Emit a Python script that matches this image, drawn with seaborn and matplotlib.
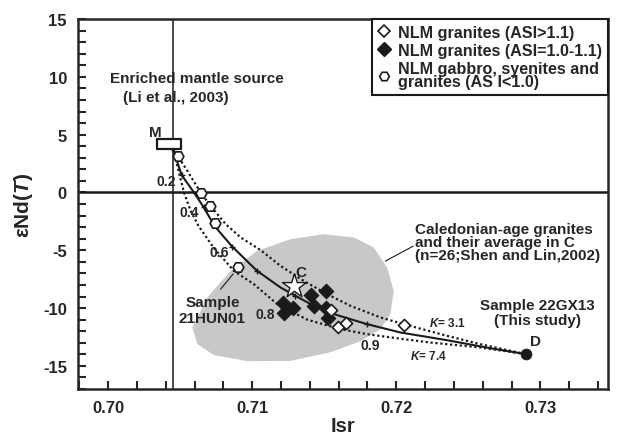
import matplotlib
matplotlib.use("Agg")
import matplotlib.pyplot as plt
import numpy as np
import seaborn as sns
from matplotlib.lines import Line2D
from matplotlib.path import Path


# end members
M_POINT = (0.7042, 4.15)
D_POINT = (0.7290, -14.0)

# mixing curves
solid_x = [0.70423, 0.70454, 0.70510, 0.70595, 0.70662, 0.70739, 0.70861, 0.71033,
           0.71196, 0.71300, 0.71427, 0.71589, 0.71797, 0.72028, 0.72352, 0.72653, 0.72902]
solid_y = [4.13, 3.57, 1.50, 0.00, -1.27, -2.92, -4.69, -6.78,
           -8.22, -8.94, -9.81, -10.61, -11.39, -12.11, -12.78, -13.47, -13.99]

upper_x = [0.70426, 0.70468, 0.70549, 0.70641, 0.70710, 0.70815, 0.70919, 0.71058, 0.71196,
           0.71358, 0.71520, 0.71682, 0.71890, 0.72051, 0.72352, 0.72583, 0.72902]
upper_y = [4.00, 3.46, 1.87, 0.00, -1.16, -2.74, -3.89, -4.99, -6.35,
           -7.65, -8.80, -9.81, -10.81, -11.39, -12.40, -13.12, -13.99]

lower_x = [0.70426, 0.70456, 0.70491, 0.70526, 0.70572, 0.70628, 0.70734, 0.70872, 0.71011,
           0.71173, 0.71381, 0.71598, 0.71798, 0.72028, 0.72236, 0.72583, 0.72902]
lower_y = [4.00, 3.46, 1.73, 0.00, -1.59, -2.92, -4.82, -6.78, -7.93,
           -9.66, -11.00, -11.78, -12.26, -12.65, -12.98, -13.41, -13.99]

# fraction ticks on the solid curve
tick_x = [0.70510, 0.70662, 0.70861, 0.71033, 0.71300, 0.71797]
tick_y = [1.50, -1.27, -4.69, -6.78, -8.94, -11.39]

# grey field of Caledonian granites
field_x = [0.70584, 0.70688, 0.70850, 0.71035, 0.71266, 0.71497, 0.71705, 0.71843, 0.71936,
           0.71982, 0.71959, 0.71890, 0.71751, 0.71543, 0.71266, 0.70965, 0.70734, 0.70619]
field_y = [-11.68, -9.08, -6.78, -5.05, -4.04, -3.61, -3.89, -4.76, -6.49,
           -8.51, -10.53, -11.83, -12.87, -13.82, -14.57, -14.59, -14.07, -13.12]

# samples
asi_high_x = [0.71548, 0.71594, 0.71654, 0.72051]
asi_high_y = [-10.18, -11.63, -11.33, -11.45]

asi_mid_x = [0.71215, 0.71219, 0.71282, 0.71411, 0.71432, 0.71515, 0.71515, 0.71524]
asi_mid_y = [-9.58, -10.47, -10.03, -8.86, -9.81, -8.56, -10.01, -10.90]

asi_low_x = [0.70484, 0.70641, 0.70704, 0.70739, 0.70900]
asi_low_y = [3.11, -0.06, -1.16, -2.60, -6.49]

C_POINT = (0.71289, -8.08)

legend_labels = [
    "NLM granites (ASI>1.1)",
    "NLM granites (ASI=1.0-1.1)",
    "NLM gabbro, syenites and\ngranites (AS I<1.0)",
]

sns.set_theme(style="ticks")
plt.rcParams["font.family"] = ["Liberation Sans", "DejaVu Sans"]
plt.rcParams["font.weight"] = "bold"
plt.rcParams["axes.unicode_minus"] = False
plt.rcParams["mathtext.fontset"] = "custom"
plt.rcParams["mathtext.it"] = "Liberation Sans:bold:italic"
plt.rcParams["mathtext.rm"] = "Liberation Sans:bold"
plt.rcParams["mathtext.bf"] = "Liberation Sans:bold"

fig = plt.figure(figsize=(6.17, 4.39), dpi=100)
ax = fig.add_axes([78 / 617, 1 - 390 / 439, 530 / 617, 370 / 439])

ax.fill(field_x, field_y, color="#c8c8c8", lw=0, zorder=1)

ax.axvline(0.7045, color="k", lw=1.1, zorder=2)
ax.axhline(0, color="k", lw=1.8, zorder=2)

sns.lineplot(x=solid_x, y=solid_y, sort=False, estimator=None, color="k", lw=1.5, ax=ax, zorder=3)
sns.lineplot(x=upper_x, y=upper_y, sort=False, estimator=None, color="k", lw=1.6,
             linestyle=(0, (1, 1.2)), ax=ax, zorder=3)
sns.lineplot(x=lower_x, y=lower_y, sort=False, estimator=None, color="k", lw=1.6,
             linestyle=(0, (1, 1.2)), ax=ax, zorder=3)
sns.scatterplot(x=tick_x, y=tick_y, marker="+", s=25, color="k", linewidth=1, ax=ax, zorder=4)

rect = Path([(-1, -0.4), (1, -0.4), (1, 0.4), (-1, 0.4), (-1, -0.4)],
            [Path.MOVETO, Path.LINETO, Path.LINETO, Path.LINETO, Path.CLOSEPOLY])
sns.scatterplot(x=[M_POINT[0]], y=[M_POINT[1]], marker=rect, s=290, color="white",
                edgecolor="k", linewidth=1.6, ax=ax, zorder=5)
sns.scatterplot(x=[D_POINT[0]], y=[D_POINT[1]], marker="o", s=60, color="k",
                edgecolor="k", ax=ax, zorder=5)

sns.scatterplot(x=asi_mid_x, y=asi_mid_y, marker="D", s=55, color="k", edgecolor="k",
                linewidth=0.8, ax=ax, zorder=5)
sns.scatterplot(x=asi_high_x, y=asi_high_y, marker="D", s=38, color="white", edgecolor="k",
                linewidth=1.2, ax=ax, zorder=6)
sns.scatterplot(x=asi_low_x, y=asi_low_y, marker="H", s=60, color="white", edgecolor="k",
                linewidth=1.2, ax=ax, zorder=6)
sns.scatterplot(x=[C_POINT[0]], y=[C_POINT[1]], marker="*", s=330, color="white",
                edgecolor="k", linewidth=1.0, ax=ax, zorder=6)

# leader lines
ax.plot([0.70780, 0.70868], [-8.37, -7.04], color="k", lw=0.8, zorder=4)
ax.plot([0.71924, 0.72118], [-5.94, -4.64], color="k", lw=0.8, zorder=4)

fs = 11
ax.text(0.70614, 9.89, "Enriched mantle source", ha="center", va="center", fontsize=fs)
ax.text(0.70468, 8.24, "(Li et al., 2003)", ha="center", va="center", fontsize=fs)
ax.text(0.70329, 5.22, "M", ha="center", va="center", fontsize=fs)
for lx, ly, lab in [(0.70399, 0.97, "0.2"), (0.70560, -1.68, "0.4"), (0.70768, -5.19, "0.6"),
                    (0.71092, -10.53, "0.8"), (0.71820, -13.18, "0.9")]:
    ax.text(lx, ly, lab, ha="center", va="center", fontsize=10)
ax.text(0.71335, -6.87, "C", ha="center", va="center", fontsize=fs)
ax.text(0.70723, -10.17, "Sample\n21HUN01", ha="center", va="center", fontsize=fs,
        linespacing=1.1)
ax.text(0.72132, -4.30, "Caledonian-age granites\nand their average in C\n(n=26;Shen and Lin,2002)",
        ha="left", va="center", fontsize=fs, linespacing=0.9)
ax.text(0.72978, -10.40, "Sample 22GX13\n(This study)", ha="center", va="center",
        fontsize=fs, linespacing=1.1)
ax.text(0.72964, -12.87, "D", ha="center", va="center", fontsize=fs)
ax.text(0.72352, -11.25, r"$\it{K}$= 3.1", ha="center", va="center", fontsize=8.5)
ax.text(0.72225, -14.07, r"$\it{K}$= 7.4", ha="center", va="center", fontsize=8.5)

ax.set_xlim(0.6979, 0.7347)
ax.set_ylim(-17, 15)
ax.set_xticks([0.70, 0.71, 0.72, 0.73])
ax.set_xticklabels(["0.70", "0.71", "0.72", "0.73"])
ax.set_xticks(np.arange(0.698, 0.7347, 0.002), minor=True)
ax.set_yticks([-15, -10, -5, 0, 5, 10, 15])
ax.set_yticklabels(["-15", "-10", "-5", "0", "5", "10", "15"])
ax.set_yticks(np.arange(-17, 15.5, 1), minor=True)
ax.tick_params(which="both", direction="in", length=6, width=1.5, labelsize=12,
               top=False, right=False)
ax.tick_params(which="major", pad=8)
for lab in ax.get_xticklabels() + ax.get_yticklabels():
    lab.set_fontweight("bold")
for sp in ax.spines.values():
    sp.set_linewidth(1.8)
    sp.set_visible(True)

ax.set_xlabel("Isr", fontsize=14.5, fontweight="bold", labelpad=1)
ax.set_ylabel(r"εNd($\it{T}$)", fontsize=15, fontweight="bold", labelpad=6)

handles = [
    Line2D([], [], marker="D", ls="none", markersize=6, markerfacecolor="white",
           markeredgecolor="k", markeredgewidth=1.2),
    Line2D([], [], marker="D", ls="none", markersize=7, markerfacecolor="k",
           markeredgecolor="k"),
    Line2D([], [], marker="H", ls="none", markersize=7, markerfacecolor="white",
           markeredgecolor="k", markeredgewidth=1.2),
]
leg = ax.legend(handles, legend_labels, loc="upper right", bbox_to_anchor=(1, 1),
                borderaxespad=0, fancybox=False, framealpha=1, edgecolor="k",
                fontsize=11.6, handlelength=0.8, handletextpad=0.5, labelspacing=0.2,
                borderpad=0.35)
leg.get_frame().set_linewidth(1.5)
for t in leg.get_texts():
    t.set_fontweight("bold")
    t.set_linespacing(0.85)

fig.savefig("out.png", dpi=100)
